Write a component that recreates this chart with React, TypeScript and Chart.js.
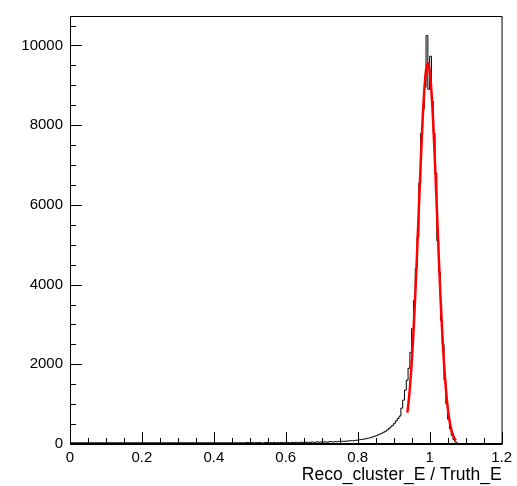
import React, { useEffect, useRef } from 'react';
import { Chart, registerables } from 'chart.js';

Chart.register(...registerables);

// Axis ranges and tick steps
const X_MIN = 0;
const X_MAX = 1.2;
const Y_MIN = 0;
const Y_MAX = 10740;
const X_MAJOR = 0.2;
const X_MINOR = 0.05;
const Y_MAJOR = 2000;
const Y_MINOR = 500;

// Tick labels
const xTickValues = [0, 0.2, 0.4, 0.6, 0.8, 1, 1.2];
const xTickLabels = ['0', '0.2', '0.4', '0.6', '0.8', '1', '1.2'];
const yTickValues = [0, 2000, 4000, 6000, 8000, 10000];
const yTickLabels = ['0', '2000', '4000', '6000', '8000', '10000'];

const X_TITLE = 'Reco_cluster_E / Truth_E';

// Histogram: first bin lower edge, bin width, and counts per bin
const binLow = 0.49;
const binWidth = 0.005;
const counts = [
  30, 40, 35, 30, 40, 25, 35, 30, 40, 30,
  25, 35, 40, 30, 35, 25, 40, 30, 35, 30,
  40, 35, 30, 45, 35, 30, 40, 35, 45, 40,
  35, 45, 40, 50, 40, 45, 35, 50, 45, 40,
  55, 45, 50, 45, 55, 50, 45, 60, 55, 50,
  60, 55, 65, 60, 70, 65, 75, 70, 80, 85,
  80, 90, 95, 100, 110, 115, 125, 130, 145, 150,
  165, 180, 195, 210, 230, 250, 270, 295, 320, 350,
  390, 430, 470, 520, 580, 640, 700, 900, 1100, 1350,
  1600, 1900, 2300, 2900, 3600, 4400, 5200, 6550, 7800, 8400,
  8950, 10250, 8900, 9730, 8600, 7800, 6800, 5100, 4300, 3100,
  2500, 1600, 1000, 620, 380, 220, 110, 50, 20, 10,
  5, 2,
];

// Fitted Gaussian curve
const fitX = [
  0.938, 0.94, 0.945, 0.95, 0.955, 0.96, 0.965, 0.97, 0.975, 0.98,
  0.985, 0.99, 0.995, 1.0, 1.005, 1.01, 1.015, 1.02, 1.025, 1.03,
  1.035, 1.04, 1.045, 1.05, 1.055, 1.06, 1.065, 1.07, 1.073,
];
const fitY = [
  786, 934, 1399, 2014, 2794, 3727, 4786, 5912, 7029, 8041,
  8853, 9378, 9560, 9378, 8853, 8041, 7029, 5912, 4786, 3727,
  2794, 2014, 1399, 934, 601, 371, 221, 126, 89,
];

const FONT = 'Liberation Sans, Arial, Helvetica, sans-serif';

const isMultiple = (v: number, step: number) =>
  Math.abs(v / step - Math.round(v / step)) < 1e-6;

const frameTicksPlugin = {
  id: 'frameTicks',
  afterDraw(chart: any) {
    const { ctx, chartArea: a, scales } = chart;
    const xs = scales.x;
    const ys = scales.y;
    ctx.save();
    ctx.strokeStyle = '#000';
    ctx.lineWidth = 1;
    ctx.beginPath();
    const nx = Math.round((X_MAX - X_MIN) / X_MINOR);
    for (let i = 0; i <= nx; i++) {
      const v = X_MIN + i * X_MINOR;
      const px = Math.round(xs.getPixelForValue(v)) + 0.5;
      const len = isMultiple(v, X_MAJOR) ? 12 : 6;
      ctx.moveTo(px, a.bottom);
      ctx.lineTo(px, a.bottom - len);
    }
    const ny = Math.floor((Y_MAX - Y_MIN) / Y_MINOR);
    for (let i = 0; i <= ny; i++) {
      const v = Y_MIN + i * Y_MINOR;
      const py = Math.round(ys.getPixelForValue(v)) + 0.5;
      const len = isMultiple(v, Y_MAJOR) ? 12 : 6;
      ctx.moveTo(a.left, py);
      ctx.lineTo(a.left + len, py);
    }
    ctx.stroke();
    // frame
    ctx.beginPath();
    ctx.moveTo(a.left + 0.5, a.bottom);
    ctx.lineTo(a.left + 0.5, a.top + 0.5);
    ctx.lineTo(a.right + 0.5, a.top + 0.5);
    ctx.lineTo(a.right + 0.5, a.bottom);
    ctx.stroke();
    ctx.lineWidth = 2;
    ctx.beginPath();
    ctx.moveTo(a.left, a.bottom);
    ctx.lineTo(a.right + 1, a.bottom);
    ctx.stroke();
    ctx.restore();
  },
};

export default function App() {
  const canvasRef = useRef<HTMLCanvasElement | null>(null);

  useEffect(() => {
    document.body.style.margin = '0';
    const canvas = canvasRef.current;
    if (!canvas) return;

    const histPoints: { x: number; y: number }[] = [{ x: X_MIN, y: 0 }];
    counts.forEach((c, i) => histPoints.push({ x: binLow + i * binWidth, y: c }));
    const lastEdge = binLow + counts.length * binWidth;
    histPoints.push({ x: lastEdge, y: 0 });
    histPoints.push({ x: X_MAX, y: 0 });

    const fitPoints = fitX.map((x, i) => ({ x, y: fitY[i] }));

    const chart = new Chart(canvas, {
      type: 'line',
      data: {
        datasets: [
          {
            label: 'fit',
            data: fitPoints,
            borderColor: '#ff0000',
            borderWidth: 2.5,
            pointRadius: 0,
            cubicInterpolationMode: 'monotone',
            fill: false,
          },
          {
            label: 'hist',
            data: histPoints,
            borderColor: '#000000',
            borderWidth: 1,
            pointRadius: 0,
            stepped: 'after',
            fill: false,
          },
        ],
      },
      options: {
        animation: false,
        responsive: false,
        events: [],
        layout: { padding: { top: 10, right: 10, left: 0, bottom: 0 } },
        plugins: {
          legend: { display: false },
          tooltip: { enabled: false },
          title: { display: false },
        },
        scales: {
          x: {
            type: 'linear',
            min: X_MIN,
            max: X_MAX,
            grid: { display: false, drawTicks: false },
            border: { display: false },
            afterBuildTicks: (scale: any) => {
              scale.ticks = xTickValues.map((v) => ({ value: v }));
            },
            ticks: {
              padding: 5,
              color: '#000',
              font: { family: FONT, size: 15 },
              maxRotation: 0,
              minRotation: 0,
              autoSkip: false,
              callback: (v: any) => {
                const i = xTickValues.findIndex((t) => Math.abs(t - Number(v)) < 1e-9);
                return i >= 0 ? xTickLabels[i] : '';
              },
            },
            title: {
              display: true,
              text: X_TITLE,
              align: 'end',
              color: '#000',
              font: { family: FONT, size: 17.5 },
              padding: { top: 0, bottom: 0 },
            },
            afterFit: (scale: any) => {
              scale.height = 42;
            },
          },
          y: {
            type: 'linear',
            min: Y_MIN,
            max: Y_MAX,
            grid: { display: false, drawTicks: false },
            border: { display: false },
            afterBuildTicks: (scale: any) => {
              scale.ticks = yTickValues.map((v) => ({ value: v }));
            },
            ticks: {
              padding: 7,
              color: '#000',
              font: { family: FONT, size: 15 },
              autoSkip: false,
              callback: (v: any) => {
                const i = yTickValues.findIndex((t) => Math.abs(t - Number(v)) < 1e-9);
                return i >= 0 ? yTickLabels[i] : '';
              },
            },
            afterFit: (scale: any) => {
              scale.width = 70;
            },
          },
        },
      },
      plugins: [frameTicksPlugin],
    } as any);

    return () => {
      chart.destroy();
    };
  }, []);

  return (
    <div style={{ width: 517, height: 486 }}>
      <canvas ref={canvasRef} width={517} height={486} style={{ display: 'block' }} />
    </div>
  );
}
